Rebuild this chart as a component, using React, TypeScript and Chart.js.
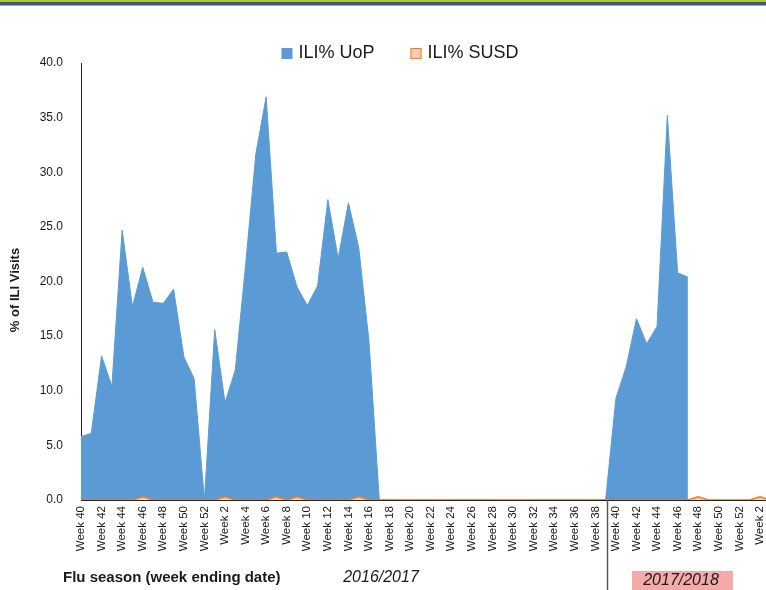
import { useEffect, useRef } from "react";
import { Chart, registerables } from "chart.js";

Chart.register(...registerables);

// ---- data ----
const weekNumbers = [
  40, 41, 42, 43, 44, 45, 46, 47, 48, 49, 50, 51, 52,
  1, 2, 3, 4, 5, 6, 7, 8, 9, 10, 11, 12, 13, 14, 15, 16, 17, 18, 19, 20,
  21, 22, 23, 24, 25, 26, 27, 28, 29, 30, 31, 32, 33, 34, 35, 36, 37, 38, 39,
  40, 41, 42, 43, 44, 45, 46, 47, 48, 49, 50, 51, 52,
  1, 2, 3,
];
const categories = weekNumbers.map((n) => `Week ${n}`);

const uopValues: (number | null)[] = [
  5.8, 6.1, 13.2, 10.4, 24.7, 17.7, 21.3, 18.1, 18.0, 19.3, 13.1, 11.1, 0.0,
  15.6, 8.9, 11.9, 21.5, 31.7, 36.9, 22.6, 22.7, 19.5, 17.8, 19.6, 27.5, 22.1, 27.2, 23.1, 14.5, 0, 0, 0, 0,
  0, 0, 0, 0, 0, 0, 0, 0, 0, 0, 0, 0, 0, 0, 0, 0, 0, 0, 0,
  9.3, 12.2, 16.6, 14.3, 15.9, 35.2, 20.8, 20.4, null, null, null, null, null,
  null, null, null,
];

const susdValues: (number | null)[] = [
  0, 0, 0, 0, 0, 0, 0.3, 0, 0, 0, 0, 0, 0,
  0, 0.3, 0, 0, 0, 0, 0.3, 0, 0.3, 0, 0, 0, 0, 0, 0.3, 0, 0, 0, 0, 0,
  0, 0, 0, 0, 0, 0, 0, 0, 0, 0, 0, 0, 0, 0, 0, 0, 0, 0, 0,
  0, 0, 0, 0, 0, 0, 0, 0, 0.3, 0, 0, 0, 0,
  0, 0.3, 0,
];

const seriesNames = ["ILI% UoP", "ILI% SUSD"];
const yAxisTitle = "% of ILI Visits";
const xAxisTitle = "Flu season (week ending date)";
const seasonLabels = ["2016/2017", "2017/2018"];
const seasonBreak = 51.1;

const FONT = "'Liberation Sans', Arial, sans-serif";
const TEXT = "#1a1a1a";

const decorPlugin = {
  id: "decor",
  beforeDraw(chart: any) {
    const ctx = chart.ctx;
    ctx.save();
    ctx.fillStyle = "#ffffff";
    ctx.fillRect(0, 0, chart.width, chart.height);
    ctx.fillStyle = "#b0c43a";
    ctx.fillRect(0, 0, chart.width, 2);
    ctx.fillStyle = "#3e5a7c";
    ctx.fillRect(0, 2, chart.width, 3);
    ctx.fillStyle = "#93a8c4";
    ctx.fillRect(0, 5, chart.width, 1);
    ctx.restore();
  },
  afterDraw(chart: any) {
    const { ctx, chartArea, scales } = chart;
    const xs = scales.x;
    ctx.save();

    // season separator
    const sx = Math.round(xs.getPixelForValue(seasonBreak)) + 0.5;
    ctx.strokeStyle = "#595959";
    ctx.lineWidth = 1.5;
    ctx.beginPath();
    ctx.moveTo(sx, chartArea.bottom);
    ctx.lineTo(sx, chart.height);
    ctx.stroke();

    // y axis title
    ctx.save();
    ctx.fillStyle = TEXT;
    ctx.font = `bold 13px ${FONT}`;
    ctx.translate(15, 290);
    ctx.rotate(-Math.PI / 2);
    ctx.textAlign = "center";
    ctx.textBaseline = "middle";
    ctx.fillText(yAxisTitle, 0, 0);
    ctx.restore();

    // x axis title + seasons
    ctx.fillStyle = TEXT;
    ctx.textBaseline = "middle";
    ctx.font = `bold 15px ${FONT}`;
    ctx.textAlign = "left";
    ctx.fillText(xAxisTitle, 63, 578);

    ctx.font = `italic 16px ${FONT}`;
    ctx.textAlign = "center";
    ctx.fillText(seasonLabels[0], 381, 578);

    ctx.fillStyle = "#f5aaaa";
    ctx.fillRect(632, 571, 101, 19);
    ctx.fillStyle = TEXT;
    ctx.fillText(seasonLabels[1], 681, 581);

    // legend
    ctx.font = `18px ${FONT}`;
    const ds = chart.data.datasets;
    const box = 11;
    const gap = 6;
    const itemGap = 36;
    const widths = ds.map((d: any) => ctx.measureText(d.label).width);
    const total =
      widths.reduce((a: number, w: number) => a + box + gap + w, 0) + itemGap * (ds.length - 1);
    let lx = 400 - total / 2;
    const ly = 53.5;
    ds.forEach((d: any, i: number) => {
      ctx.fillStyle = d.backgroundColor;
      ctx.fillRect(lx, ly - box / 2, box, box);
      if (d.legendStroke) {
        ctx.strokeStyle = d.borderColor;
        ctx.lineWidth = 1;
        ctx.strokeRect(lx + 0.5, ly - box / 2 + 0.5, box - 1, box - 1);
      }
      ctx.fillStyle = TEXT;
      ctx.textAlign = "left";
      ctx.textBaseline = "middle";
      ctx.fillText(d.label, lx + box + gap, ly);
      lx += box + gap + widths[i] + itemGap;
    });

    ctx.restore();
  },
};

export default function App() {
  const ref = useRef<HTMLCanvasElement>(null);

  useEffect(() => {
    if (!ref.current) return;
    Chart.defaults.font.family = FONT;
    const chart = new Chart(ref.current, {
      type: "line",
      data: {
        labels: categories,
        datasets: [
          {
            label: seriesNames[0],
            data: uopValues,
            backgroundColor: "#5b9bd5",
            borderColor: "#5b9bd5",
            borderWidth: 1,
            fill: "origin",
            pointRadius: 0,
            tension: 0,
            order: 1,
          } as any,
          {
            label: seriesNames[1],
            data: susdValues,
            backgroundColor: "#f8cbad",
            borderColor: "#ed7d31",
            borderWidth: 1.5,
            fill: "origin",
            pointRadius: 0,
            tension: 0,
            order: 0,
            legendStroke: true,
          } as any,
        ],
      },
      options: {
        animation: false,
        responsive: false,
        devicePixelRatio: 1,
        layout: { padding: { top: 63, left: 0, right: 19, bottom: 0 } },
        plugins: {
          legend: { display: false },
          tooltip: { enabled: false },
        },
        scales: {
          x: {
            type: "category",
            offset: false,
            z: 1,
            grid: { display: false, drawTicks: false },
            border: { display: true, color: "#262626", width: 1 },
            ticks: {
              autoSkip: false,
              minRotation: 90,
              maxRotation: 90,
              padding: 6,
              color: TEXT,
              font: { size: 11.5 },
              callback: (_v: any, i: number) => (i % 2 === 0 ? categories[i] : ""),
            },
            afterFit: (s: any) => {
              s.height = 90;
            },
          },
          y: {
            min: 0,
            max: 40,
            grid: { display: false, drawTicks: false },
            border: { display: true, color: "#262626", width: 1 },
            ticks: {
              stepSize: 5,
              padding: 18,
              color: TEXT,
              font: { size: 12 },
              callback: (v: any) => Number(v).toFixed(1),
            },
            afterFit: (s: any) => {
              s.width = 81;
            },
          },
        },
      } as any,
      plugins: [decorPlugin],
    });
    return () => chart.destroy();
  }, []);

  return (
    <div
      style={{
        position: "fixed",
        left: 0,
        top: 0,
        width: 766,
        height: 590,
        overflow: "hidden",
        background: "#fff",
      }}
    >
      <canvas ref={ref} width={790} height={590} style={{ display: "block", width: 790, height: 590 }} />
    </div>
  );
}
